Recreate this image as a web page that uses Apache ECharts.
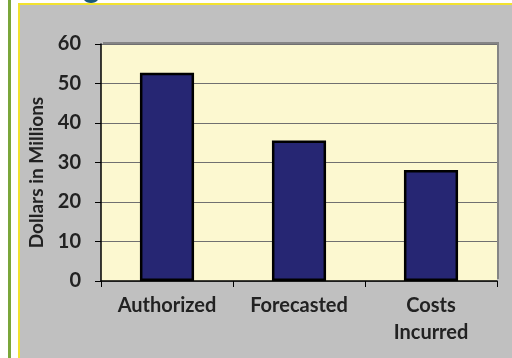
<!DOCTYPE html>
<html><head><meta charset="utf-8">
<script src="https://cdn.jsdelivr.net/npm/echarts@6/dist/echarts.min.js"></script>
<style>html,body{margin:0;padding:0;background:#fff}#c{width:512px;height:358px}</style>
</head><body><div id="c"></div>
<script>
const categories = ['Authorized', 'Forecasted', 'Costs\nIncurred'];
const values = [52.7, 35.6, 28.1];
const yTicks = [0, 10, 20, 30, 40, 50, 60];
const yTitle = 'Dollars in Millions';

const chart = echarts.init(document.getElementById('c'), null, {renderer: 'canvas'});
const font = 'Lato, "Open Sans", sans-serif';
chart.setOption({
  backgroundColor: '#ffffff',
  animation: false,
  graphic: [
    {type: 'rect', shape: {x: 8, y: 0, width: 3, height: 358}, style: {fill: '#7aa63a'}, z: -10},
    {type: 'rect', shape: {x: 19, y: 4, width: 500, height: 360}, style: {fill: '#c0c0c0', stroke: '#f2e230', lineWidth: 2}, z: -10},
    {type: 'ellipse', shape: {cx: 91, cy: -3, rx: 8, ry: 6}, style: {fill: '#1b5a78'}, z: -5}
  ],
  grid: {
    left: 101, right: 15, top: 44, bottom: 77,
    show: true, backgroundColor: '#fcf8d0', borderWidth: 0,
    shadowColor: '#858585', shadowBlur: 0, shadowOffsetX: 2, shadowOffsetY: -2
  },
  xAxis: {
    type: 'category', data: categories,
    axisLine: {lineStyle: {color: '#000', width: 1.5}},
    axisTick: {show: true, length: 6, lineStyle: {color: '#000'}},
    axisLabel: {color: '#222', fontFamily: font, fontWeight: 'bold', fontSize: 20, margin: 11, lineHeight: 27}
  },
  yAxis: {
    type: 'value', min: 0, max: 60, interval: 10,
    name: yTitle, nameLocation: 'middle', nameGap: 55, nameRotate: 90,
    nameTextStyle: {color: '#222', fontFamily: font, fontWeight: 'bold', fontSize: 19, padding: [0, 20, 0, 0]},
    axisLine: {show: true, lineStyle: {color: '#000', width: 1.5}},
    axisTick: {show: true, length: 6, lineStyle: {color: '#000'}},
    axisLabel: {color: '#222', fontFamily: font, fontWeight: 'bold', fontSize: 20, margin: 20,
      formatter: v => yTicks.includes(v) ? String(v) : ''},
    splitLine: {show: true, lineStyle: {color: '#707070', width: 1}}
  },
  series: [{
    type: 'bar', data: values, barWidth: '41%',
    itemStyle: {color: '#262673', borderColor: '#000', borderWidth: 2.5}
  }]
});
</script></body></html>
